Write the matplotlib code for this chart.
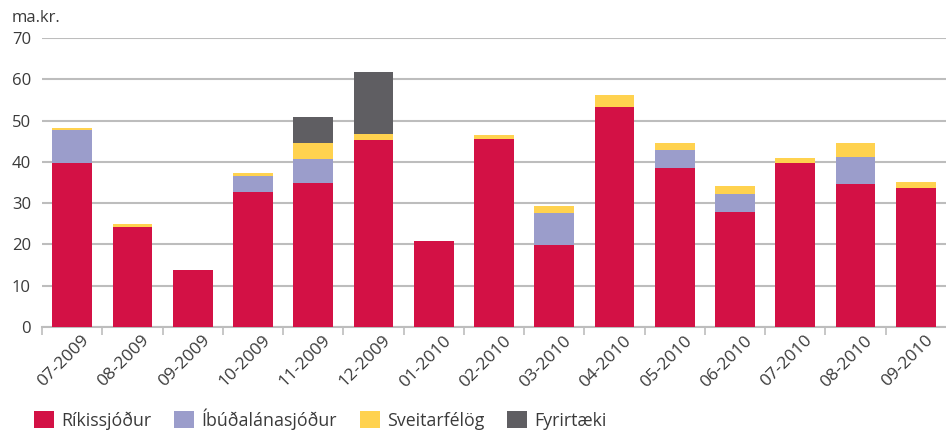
import matplotlib
matplotlib.use("Agg")
import matplotlib.pyplot as plt
import matplotlib.transforms as mtransforms
from matplotlib.patches import Patch
import numpy as np

plt.rcParams['font.family'] = ['Open Sans', 'DejaVu Sans']

# Months shown on the x-axis
months = ["07-2009", "08-2009", "09-2009", "10-2009", "11-2009", "12-2009",
          "01-2010", "02-2010", "03-2010", "04-2010", "05-2010", "06-2010",
          "07-2010", "08-2010", "09-2010"]

# Values in ma.kr.
rikissjodur = [39.8, 24.3, 13.8, 32.6, 34.9, 45.3, 20.8, 45.5, 19.8, 53.3, 38.5, 27.8, 39.7, 34.6, 33.7]
ibudalanasjodur = [8.0, 0.0, 0.0, 3.9, 5.8, 0.0, 0.0, 0.0, 7.7, 0.0, 4.4, 4.4, 0.0, 6.6, 0.0]
sveitarfelog = [0.5, 0.6, 0.0, 0.7, 3.9, 1.4, 0.0, 0.9, 1.9, 2.9, 1.7, 1.9, 1.2, 3.4, 1.4]
fyrirtaeki = [0.0, 0.0, 0.0, 0.0, 6.2, 15.0, 0.0, 0.0, 0.0, 0.0, 0.0, 0.0, 0.0, 0.0, 0.0]

series = [("Ríkissjóður", rikissjodur, "#D31145"),
          ("Íbúðalánasjóður", ibudalanasjodur, "#9B9DCB"),
          ("Sveitarfélög", sveitarfelog, "#FFD24F"),
          ("Fyrirtæki", fyrirtaeki, "#5F5E62")]

text_color = "#3A3A3A"

fig = plt.figure(figsize=(9.46, 4.30), dpi=100)
ax = fig.add_axes([42 / 946, 1 - 327 / 430, (946 - 42) / 946, (327 - 38) / 430])

x = np.arange(len(months))
bottom = np.zeros(len(months))
for name, vals, color in series:
    vals = np.array(vals)
    ax.bar(x, vals, bottom=bottom, width=0.66, color=color, label=name, zorder=3)
    bottom += vals

ax.set_ylim(0, 70)
ax.set_xlim(-0.5, 14.5)
ax.set_yticks(range(0, 71, 10))
ax.yaxis.grid(True, color="#BDBDBD", linewidth=1.5, zorder=0)
ax.set_axisbelow(True)

for s in ["top", "right", "left"]:
    ax.spines[s].set_visible(False)
ax.spines["bottom"].set_color("#BDBDBD")
ax.spines["bottom"].set_linewidth(1.5)

ax.tick_params(axis="y", length=0, labelsize=12, labelcolor=text_color, pad=8)
ax.set_xticks(x)
ax.set_xticks(np.arange(-0.5, 14.5, 1), minor=True)
ax.tick_params(axis="x", which="major", length=0, labelsize=12.5, labelcolor=text_color, pad=4)
ax.tick_params(axis="x", which="minor", length=6, color="#BDBDBD", width=1.2)
ax.set_xticklabels(months, rotation=45, ha="right", rotation_mode="anchor")
offset = mtransforms.ScaledTranslation(9 / 100, 0, fig.dpi_scale_trans)
for lbl in ax.get_xticklabels():
    lbl.set_transform(lbl.get_transform() + offset)

fig.text(12 / 946, 1 - 18 / 430, "ma.kr.", fontsize=12, color=text_color, va="center", ha="left")

handles = [Patch(facecolor=c, edgecolor="none") for _, _, c in series]
fig.legend(handles, [n for n, _, _ in series], loc="center left",
           bbox_to_anchor=(34 / 946, 1 - 419 / 430), ncol=4, frameon=False,
           fontsize=12.8, handlelength=1.12, handleheight=1.12, handletextpad=0.4,
           columnspacing=1.3, labelcolor=text_color, borderaxespad=0,
           borderpad=0)

fig.savefig("out.png", dpi=100)
